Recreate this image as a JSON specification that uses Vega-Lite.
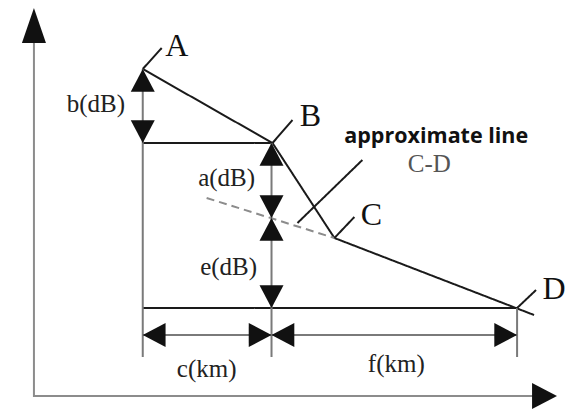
{
  "$schema": "https://vega.github.io/schema/vega-lite/v6.json",
  "width": 566,
  "height": 413,
  "padding": 0,
  "autosize": {"type": "fit", "contains": "padding"},
  "background": "white",
  "view": {"stroke": null},
  "datasets": {
    "lines": [
      {"part": "y axis", "x": 34, "y": 40, "x2": 34, "y2": 397, "style": "axis"},
      {"part": "x axis", "x": 34, "y": 396, "x2": 535, "y2": 396, "style": "axis"},
      {"part": "A-B", "x": 143, "y": 69, "x2": 273, "y2": 143, "style": "black"},
      {"part": "B-C", "x": 273, "y": 143, "x2": 335, "y2": 238, "style": "black"},
      {"part": "C-D", "x": 335, "y": 238, "x2": 535, "y2": 315, "style": "black"},
      {"part": "B level", "x": 143, "y": 143, "x2": 273, "y2": 143, "style": "black"},
      {"part": "D level", "x": 143, "y": 308, "x2": 518, "y2": 308, "style": "black"},
      {"part": "A drop", "x": 143, "y": 69, "x2": 143, "y2": 357, "style": "gray"},
      {"part": "B drop", "x": 272, "y": 143, "x2": 272, "y2": 357, "style": "gray"},
      {"part": "D drop", "x": 518, "y": 308, "x2": 518, "y2": 357, "style": "gray"},
      {"part": "distance", "x": 143, "y": 335, "x2": 518, "y2": 335, "style": "gray"},
      {"part": "approx C-D", "x": 207, "y": 198, "x2": 335, "y2": 238, "style": "dashed"},
      {"part": "A leader", "x": 143, "y": 69, "x2": 162, "y2": 48, "style": "black"},
      {"part": "B leader", "x": 273, "y": 143, "x2": 293, "y2": 120, "style": "black"},
      {"part": "C leader", "x": 335, "y": 238, "x2": 355, "y2": 217, "style": "black"},
      {"part": "D leader", "x": 518, "y": 308, "x2": 537, "y2": 290, "style": "black"},
      {"part": "note leader", "x": 363, "y": 160, "x2": 298, "y2": 223, "style": "black"}
    ],
    "arrows": [
      {"dim": "y axis", "x": 34, "y": 8, "dir": "axis-up"},
      {"dim": "x axis", "x": 558, "y": 396, "dir": "axis-right"},
      {"dim": "b", "x": 143, "y": 69, "dir": "up"},
      {"dim": "b", "x": 143, "y": 143, "dir": "down"},
      {"dim": "a", "x": 272, "y": 143, "dir": "up"},
      {"dim": "a", "x": 272, "y": 218, "dir": "down"},
      {"dim": "e", "x": 272, "y": 218, "dir": "up"},
      {"dim": "e", "x": 272, "y": 308, "dir": "down"},
      {"dim": "c", "x": 143, "y": 335, "dir": "left"},
      {"dim": "c", "x": 272, "y": 335, "dir": "right"},
      {"dim": "f", "x": 272, "y": 335, "dir": "left"},
      {"dim": "f", "x": 518, "y": 335, "dir": "right"}
    ],
    "points": [
      {"text": "A", "x": 177, "y": 46},
      {"text": "B", "x": 311, "y": 116},
      {"text": "C", "x": 372, "y": 215},
      {"text": "D", "x": 555, "y": 289}
    ],
    "dims": [
      {"text": "b(dB)", "x": 96, "y": 104},
      {"text": "a(dB)", "x": 227, "y": 178},
      {"text": "e(dB)", "x": 229, "y": 267},
      {"text": "c(km)", "x": 207, "y": 369},
      {"text": "f(km)", "x": 397, "y": 364}
    ],
    "cd": [
      {"text": "C-D", "x": 430, "y": 164}
    ],
    "notes": [
      {"text": "approximate line", "x": 437, "y": 137}
    ]
  },
  "encoding": {
    "x": {"field": "x", "type": "quantitative", "axis": null, "scale": {"domain": [0, 566], "nice": false, "zero": false}},
    "y": {"field": "y", "type": "quantitative", "axis": null, "scale": {"domain": [0, 413], "nice": false, "zero": false, "reverse": true}}
  },
  "layer": [
    {
      "data": {"name": "lines"},
      "mark": {"type": "rule", "strokeWidth": 2, "strokeCap": "butt"},
      "encoding": {
        "x2": {"field": "x2"},
        "y2": {"field": "y2"},
        "color": {"field": "style", "type": "nominal", "legend": null,
          "scale": {"domain": ["black", "gray", "axis", "dashed"], "range": ["#1a1a1a", "#7a7a7a", "#8c8c8c", "#8c8c8c"]}},
        "strokeDash": {"field": "style", "type": "nominal", "legend": null,
          "scale": {"domain": ["black", "gray", "axis", "dashed"], "range": [[1, 0], [1, 0], [1, 0], [8, 5]]}}
      }
    },
    {
      "data": {"name": "arrows"},
      "mark": {"type": "point", "filled": true, "opacity": 1, "size": 2304, "color": "#111", "strokeWidth": 0},
      "encoding": {
        "shape": {"field": "dir", "type": "nominal", "legend": null,
          "scale": {
            "domain": ["up", "down", "left", "right", "axis-up", "axis-right"],
            "range": [
              "M0,0L-0.5,0.95L0.5,0.95Z",
              "M0,0L-0.5,-0.95L0.5,-0.95Z",
              "M0,0L0.95,-0.5L0.95,0.5Z",
              "M0,0L-0.95,-0.5L-0.95,0.5Z",
              "M0,0L-0.5,1.46L0.5,1.46Z",
              "M0,0L-1.04,-0.54L-1.04,0.54Z"
            ]
          }}
      }
    },
    {
      "data": {"name": "points"},
      "mark": {"type": "text", "font": "Liberation Serif", "fontSize": 32, "align": "center", "baseline": "middle", "color": "#111"},
      "encoding": {"text": {"field": "text"}}
    },
    {
      "data": {"name": "dims"},
      "mark": {"type": "text", "font": "Liberation Serif", "fontSize": 25, "align": "center", "baseline": "middle", "color": "#222"},
      "encoding": {"text": {"field": "text"}}
    },
    {
      "data": {"name": "cd"},
      "mark": {"type": "text", "font": "Liberation Serif", "fontSize": 25, "align": "center", "baseline": "middle", "color": "#555"},
      "encoding": {"text": {"field": "text"}}
    },
    {
      "data": {"name": "notes"},
      "mark": {"type": "text", "font": "Open Sans", "fontWeight": "bold", "fontSize": 21.5, "align": "center", "baseline": "middle", "color": "#111"},
      "encoding": {"text": {"field": "text"}}
    }
  ]
}
